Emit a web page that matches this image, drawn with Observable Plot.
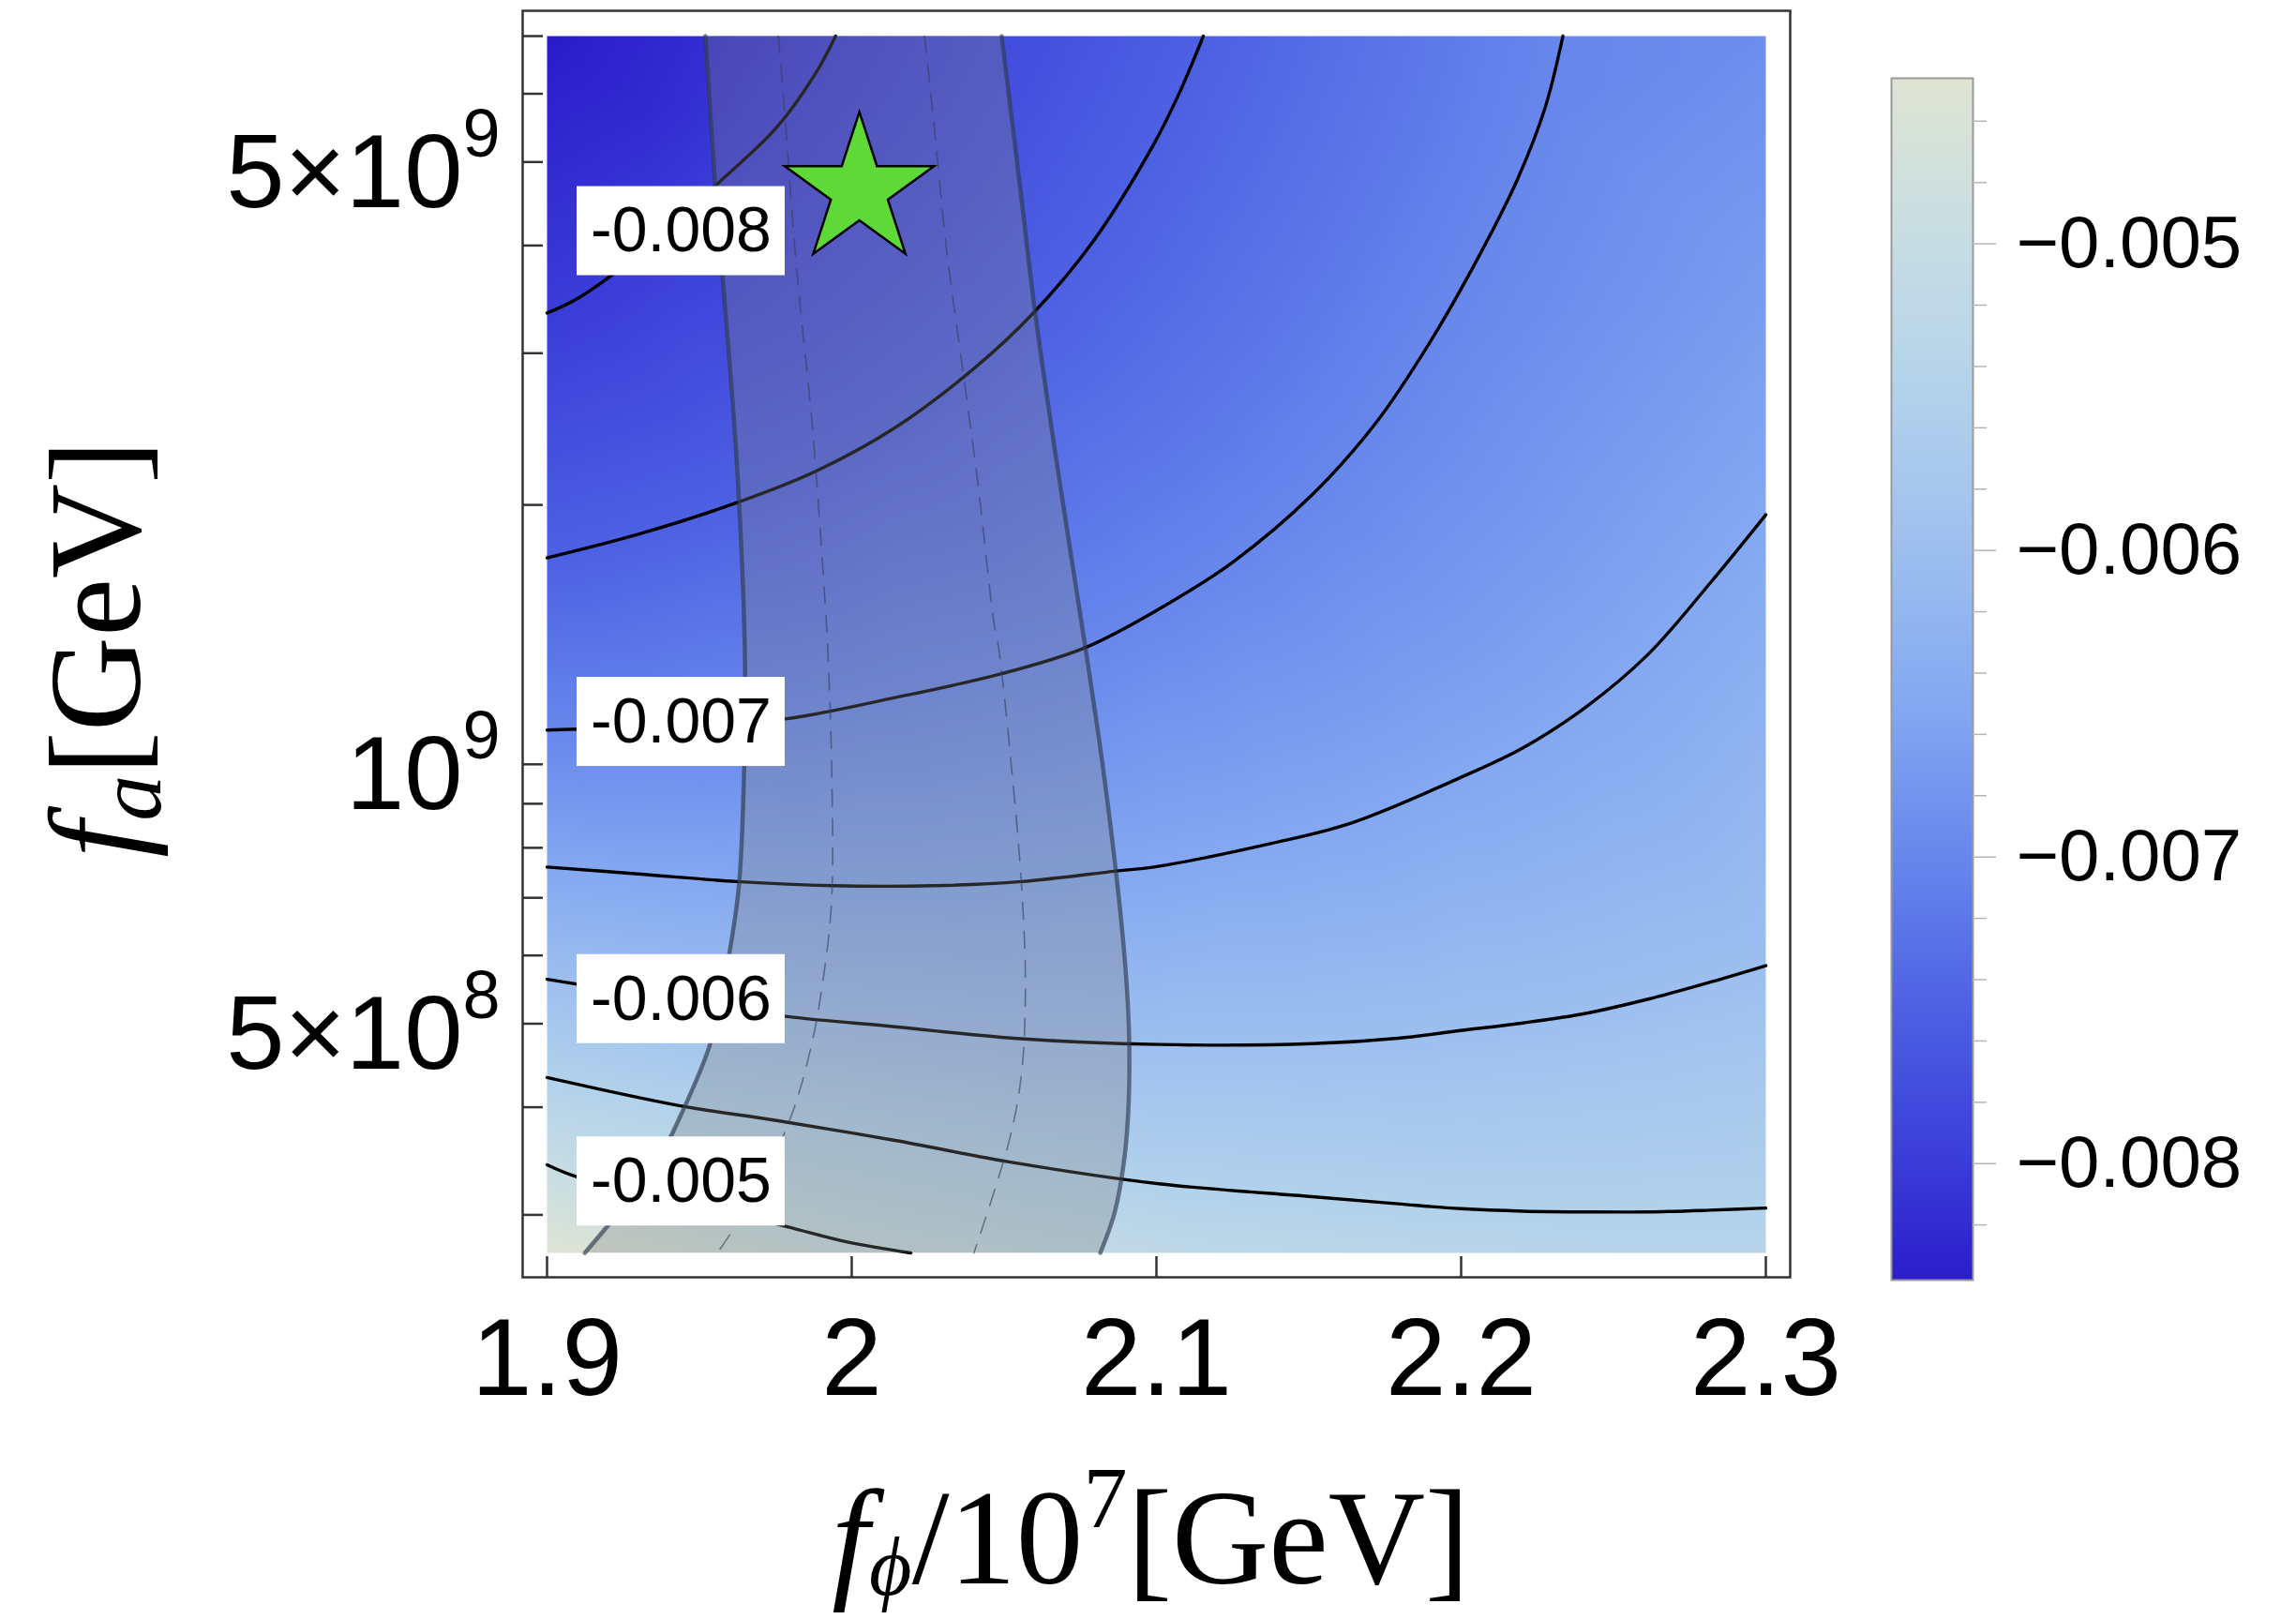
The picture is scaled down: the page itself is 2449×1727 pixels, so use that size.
<!DOCTYPE html>
<html><head><meta charset="utf-8">
<script src="https://cdn.jsdelivr.net/npm/d3@7"></script>
<script src="https://cdn.jsdelivr.net/npm/@observablehq/plot@0.6"></script>
<style>
html,body{margin:0;padding:0;background:#fff;}
#wrap{position:relative;width:2449px;height:1727px;overflow:hidden;background:#fff;}
#wrap svg{position:absolute;top:0;}
</style></head>
<body><div id="wrap"></div>
<script>
// ---------- axes ----------
const X_DOMAIN = [1.9, 2.3];
const Y_DOMAIN = [2.71e8, 7e9];
const X_TICKS = [1.9, 2.0, 2.1, 2.2, 2.3];
const Y_TICKS = [3e8, 4e8, 5e8, 6e8, 7e8, 8e8, 9e8, 1e9, 2e9, 3e9, 4e9, 5e9, 6e9, 7e9];
const Y_LABELS = [5e8, 1e9, 5e9];

// ---------- contour lines (x = f_phi/1e7, y = f_a) ----------
const C_M0080 = [[1.9,3.34e9],[1.9105,3.48e9],[1.9390,4.14e9],[1.9552,4.69e9],[1.9753,5.48e9],[1.9883,6.35e9],[1.9947,7e9]];
const C_M0075 = [[1.9,1.736e9],[1.9299,1.849e9],[1.9623,2.012e9],[1.9883,2.189e9],[2.0142,2.458e9],[2.0401,2.879e9],[2.0595,3.337e9],[2.0790,4.034e9],[2.0992,5.25e9],[2.1072,5.98e9],[2.1154,7e9]];
const C_M0070 = [[1.9,1.096e9],[1.9437,1.109e9],[1.9782,1.129e9],[2.0142,1.195e9],[2.0492,1.274e9],[2.0764,1.365e9],[2.1008,1.514e9],[2.1252,1.718e9],[2.1511,2.055e9],[2.1718,2.484e9],[2.1900,3.099e9],[2.2055,3.867e9],[2.2185,4.775e9],[2.2275,5.771e9],[2.2334,7e9]];
const C_M0065 = [[1.9,7.60e8],[1.9299,7.46e8],[1.9623,7.31e8],[1.9934,7.23e8],[2.0271,7.23e8],[2.0557,7.31e8],[2.0868,7.52e8],[2.0992,7.60e8],[2.1381,8.10e8],[2.1640,8.55e8],[2.1998,9.653e8],[2.2203,1.045e9],[2.2409,1.165e9],[2.2614,1.342e9],[2.2819,1.626e9],[2.3,1.948e9]];
const C_M0060 = [[1.9,5.63e8],[1.9437,5.32e8],[1.9782,5.10e8],[2.0142,4.96e8],[2.0530,4.81e8],[2.1008,4.73e8],[2.1511,4.74e8],[2.1793,4.81e8],[2.1998,4.91e8],[2.2203,5.01e8],[2.2409,5.14e8],[2.2614,5.34e8],[2.2819,5.59e8],[2.3,5.84e8]];
const C_M0055 = [[1.9,4.33e8],[1.9429,4.02e8],[1.9753,3.86e8],[2.0142,3.66e8],[2.0530,3.45e8],[2.1008,3.26e8],[2.1511,3.15e8],[2.1793,3.09e8],[2.1998,3.05e8],[2.2203,3.03e8],[2.2409,3.024e8],[2.2614,3.024e8],[2.2819,3.038e8],[2.3,3.055e8]];
const C_M0050 = [[1.9,3.43e8],[1.9099,3.32e8],[1.9429,3.12e8],[1.9782,2.91e8],[1.9986,2.79e8],[2.0194,2.71e8]];
const CONTOUR_LEVELS = [-0.008, -0.0075, -0.007, -0.0065, -0.006, -0.0055, -0.005];
const CONTOUR_POINTS = [C_M0080, C_M0075, C_M0070, C_M0065, C_M0060, C_M0055, C_M0050];

// extra field samples (edges/corners) [x, y, value]
const EDGE_SAMPLES = [
  [1.9, 7e9, -0.0084], [1.9483, 7e9, -0.0082], [1.936, 5.69e9, -0.0082],
  [2.3, 7e9, -0.0069], [2.3, 3.72e9, -0.0067],
  [1.9, 2.71e8, -0.00447], [1.9607, 2.71e8, -0.00476], [2.0592, 2.71e8, -0.0051],
  [2.1208, 2.71e8, -0.00527], [2.1978, 2.71e8, -0.00535], [2.2677, 2.71e8, -0.00541], [2.3, 2.71e8, -0.0054]
];

// ---------- shaded band ----------
const BAND_Y = [7e9, 4.69e9, 3.34e9, 2.236e9, 1.365e9, 9.95e8, 7.25e8, 6.00e8, 5.28e8, 4.71e8, 3.98e8, 3.47e8, 3.02e8, 2.71e8];
const BAND_LEFT = [1.9520, 1.9552, 1.9586, 1.9623, 1.9649, 1.9647, 1.9630, 1.9597, 1.9564, 1.9533, 1.9448, 1.9364, 1.9235, 1.9124];
const BAND_RIGHT = [2.0492, 2.0552, 2.0602, 2.0673, 2.0767, 2.0824, 2.0872, 2.0895, 2.0906, 2.0911, 2.0908, 2.0894, 2.0863, 2.0816];
const DASH_LEFT = [[1.9759,7e9],[1.9779,5.77e9],[1.9818,3.79e9],[1.9870,2.48e9],[1.9908,1.63e9],[1.9921,1.365e9],[1.9934,9.95e8],[1.9934,6.95e8],[1.9908,5.69e8],[1.9870,4.76e8],[1.9805,3.94e8],[1.9688,3.19e8],[1.9559,2.71e8]];
const DASH_RIGHT = [[2.0239,7e9],[2.0271,5.48e9],[2.0310,3.99e9],[2.0362,2.91e9],[2.0414,2.12e9],[2.0466,1.466e9],[2.0482,1.365e9],[2.0524,9.95e8],[2.0557,7.25e8],[2.0570,5.57e8],[2.0557,4.37e8],[2.0517,3.66e8],[2.0401,2.71e8]];

// ---------- contour labels & star ----------
const LABEL_VALUES = [-0.008, -0.007, -0.006, -0.005];
const LABEL_X = [1.944, 1.944, 1.944, 1.944];
const LABEL_Y = [4.157e9, 1.120e9, 5.34e8, 3.28e8];
const STAR_X = [2.0025];
const STAR_Y = [4.635e9];

// ---------- colour scale ----------
const COLOR_VALUES = [-0.00838, -0.0080, -0.0075, -0.0070, -0.0065, -0.0060, -0.0055, -0.0050, -0.00446];
const COLOR_STOPS = ["#2b1ccb", "#3a3cd8", "#4d60e3", "#6787ec", "#84a8f1", "#9dbfef", "#b2d1eb", "#c6dde3", "#dfe4d3"];
const CB_MAJOR = [-0.005, -0.006, -0.007, -0.008];
const CB_MINOR = [-0.0046, -0.0048, -0.0052, -0.0054, -0.0056, -0.0058, -0.0062, -0.0064, -0.0066, -0.0068, -0.0072, -0.0074, -0.0076, -0.0078, -0.0082];

// ---------- titles ----------
const X_TITLE = "f_ϕ/10^7[GeV]";
const Y_TITLE = "f_a[GeV]";

// ---------- build tables ----------
const lineRows = CONTOUR_POINTS.flatMap((pts, k) => pts.map(([x, y]) => ({x, y, level: CONTOUR_LEVELS[k]})));
const sampleRows = lineRows.map(d => ({x: d.x, y: d.y, v: d.level}))
  .concat(EDGE_SAMPLES.map(([x, y, v]) => ({x, y, v})));
const bandRows = BAND_Y.map((y, i) => ({y, l: BAND_LEFT[i], r: BAND_RIGHT[i]}));
const dashRows = DASH_LEFT.map(([x, y]) => ({x, y, s: "L"})).concat(DASH_RIGHT.map(([x, y]) => ({x, y, s: "R"})));
const labelRows = LABEL_VALUES.map((v, i) => ({v, x: LABEL_X[i], y: LABEL_Y[i]}));
const starRows = STAR_X.map((x, i) => ({x, y: STAR_Y[i]}));

const colorScale = {type: "linear", domain: COLOR_VALUES, range: COLOR_STOPS, interpolate: "rgb", clamp: true};
const fmtX = d => String(+d.toFixed(1));
const fmtY = d => { const e = Math.floor(Math.log10(d) + 1e-9); const m = Math.round(d / 10 ** e); return (m === 1 ? "" : m + "×") + "10^" + e; };

const W = 2449, H = 1727;
const mL = 557, mR = 540, mT = 11, mB = 365;
const frameW = W - mL - mR, frameH = H - mT - mB;
const SERIF = "'Liberation Serif', 'Times New Roman', serif";

const main = Plot.plot({
  width: W, height: H,
  marginLeft: mL, marginRight: mR, marginTop: mT, marginBottom: mB,
  style: {background: "white", fontFamily: "'Liberation Sans', Arial, sans-serif"},
  x: {domain: X_DOMAIN, insetLeft: 26, insetRight: 26, axis: null},
  y: {type: "log", domain: Y_DOMAIN, insetTop: 27, insetBottom: 26, axis: null},
  color: colorScale,
  marks: [
    Plot.raster(sampleRows, {x: "x", y: "y", fill: "v", interpolate: "barycentric",
      x1: X_DOMAIN[0], x2: X_DOMAIN[1], y1: Y_DOMAIN[0], y2: Y_DOMAIN[1], pixelSize: 1}),
    Plot.line(lineRows, {x: "x", y: "y", z: "level", curve: "catmull-rom", stroke: "#000", strokeWidth: 3.4}),
    Plot.areaX(bandRows, {y: "y", x1: "l", x2: "r", curve: "catmull-rom", fill: "#808080", fillOpacity: 0.3}),
    Plot.line(bandRows, {x: "l", y: "y", curve: "catmull-rom", stroke: "#2e3a50", strokeOpacity: 0.65, strokeWidth: 4.5}),
    Plot.line(bandRows, {x: "r", y: "y", curve: "catmull-rom", stroke: "#2e3a50", strokeOpacity: 0.65, strokeWidth: 4.5}),
    Plot.line(dashRows, {x: "x", y: "y", z: "s", curve: "catmull-rom", stroke: "#34405a", strokeOpacity: 0.6, strokeWidth: 1.6, strokeDasharray: "18,13"}),
    Plot.frame({stroke: "#333", strokeWidth: 2.5}),
    Plot.tickX(X_TICKS, {x: d => d, insetTop: frameH - 22, stroke: "#333", strokeWidth: 2.5}),
    Plot.tickY(Y_TICKS, {y: d => d, insetRight: frameW - 22, stroke: "#333", strokeWidth: 2.5}),
    Plot.rect(labelRows, {x1: "x", x2: "x", y1: "y", y2: "y", insetLeft: -111, insetRight: -111, insetTop: -47.5, insetBottom: -47.5, fill: "white"}),
    Plot.text(labelRows, {x: "x", y: "y", text: d => d.v.toFixed(3), fontSize: 68, fill: "#000"}),
    Plot.dot(starRows, {x: "x", y: "y", symbol: "star", r: 50, fill: "#5fd937", stroke: "#000", strokeWidth: 2.5}),
    Plot.text(X_TICKS, {x: d => d, text: fmtX, frameAnchor: "bottom", lineAnchor: "bottom", dy: 125, fontSize: 116, fill: "#000"}),
    Plot.text(Y_LABELS, {y: d => d, text: fmtY, frameAnchor: "left", textAnchor: "end", lineAnchor: "bottom", dx: -24, dy: 48, fontSize: 112, fill: "#000"}),
    Plot.text([X_TITLE], {text: d => d, frameAnchor: "bottom", textAnchor: "middle", lineAnchor: "bottom", dx: -6, dy: 326, fontSize: 143, fontFamily: SERIF, fill: "#000"}),
    Plot.text([Y_TITLE], {text: d => d, frameAnchor: "left", rotate: -90, textAnchor: "middle", lineAnchor: "bottom", dx: 148 - mL, dy: 5, fontSize: 140, fontFamily: SERIF, fill: "#000"})
  ]
});

// colour bar
const CB_DOMAIN = [COLOR_VALUES[0], COLOR_VALUES[COLOR_VALUES.length - 1]];
const cbW = 433;
const colorbar = Plot.plot({
  width: cbW, height: H,
  marginLeft: 1, marginRight: cbW - 88, marginTop: 83, marginBottom: H - 1365,
  style: {background: "transparent", fontFamily: "'Liberation Sans', Arial, sans-serif", overflow: "visible"},
  x: {domain: [0, 1], axis: null},
  y: {domain: CB_DOMAIN, axis: null},
  color: colorScale,
  marks: [
    Plot.raster({x1: 0, x2: 1, y1: CB_DOMAIN[0], y2: CB_DOMAIN[1], fill: (x, y) => y, pixelSize: 1}),
    Plot.frame({stroke: "#9a9a9a", strokeWidth: 2}),
    Plot.tickY(CB_MINOR, {y: d => d, insetLeft: 87, insetRight: -15, stroke: "#b5b5b5", strokeWidth: 1.5}),
    Plot.tickY(CB_MAJOR, {y: d => d, insetLeft: 87, insetRight: -25, stroke: "#b5b5b5", strokeWidth: 1.5}),
    Plot.text(CB_MAJOR, {y: d => d, text: d3.format(".3f"), frameAnchor: "right", textAnchor: "start", dx: 46, fontSize: 78, fill: "#000"})
  ]
});

// rich text (superscripts / subscripts / italics)
const NS = "http://www.w3.org/2000/svg";
function tspan(parent, text, attrs = {}) {
  const el = document.createElementNS(NS, "tspan");
  el.textContent = text;
  for (const k in attrs) el.setAttribute(k, attrs[k]);
  parent.appendChild(el);
}
main.querySelectorAll("text").forEach(t => {
  const s = t.textContent;
  if (s === X_TITLE) {
    t.textContent = "";
    tspan(t, "f", {"font-style": "italic"});
    tspan(t, "ϕ", {"font-style": "italic", "font-size": 88, dy: 12});
    tspan(t, "/10", {dy: -12});
    tspan(t, "7", {"font-size": 94, dy: -60});
    tspan(t, "[GeV]", {dy: 60});
  } else if (s === Y_TITLE) {
    t.textContent = "";
    tspan(t, "f", {"font-style": "italic"});
    tspan(t, "a", {"font-style": "italic", "font-size": 98, dy: 22});
    tspan(t, "[GeV]", {dy: -22});
  } else if (s.includes("^")) {
    const [b, e] = s.split("^");
    t.textContent = "";
    tspan(t, b);
    tspan(t, e, {"font-size": 72, dy: -54});
  }
});

const wrap = document.getElementById("wrap");
main.style.left = "0px";
colorbar.style.left = "2016px";
wrap.appendChild(main);
wrap.appendChild(colorbar);
</script>
</body></html>
